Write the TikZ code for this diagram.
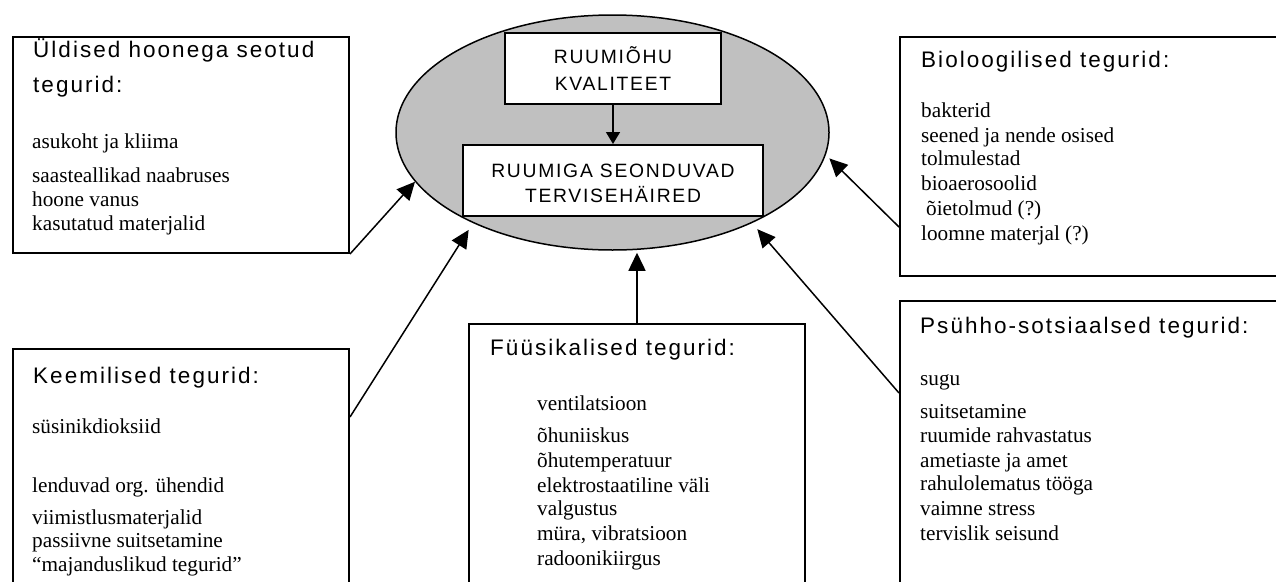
\documentclass[tikz,border=0pt]{standalone}
\usepackage{fontspec}
\setmainfont{Liberation Serif}
\newfontfamily\hfont{Liberation Sans}[LetterSpace=9]
\usetikzlibrary{shapes.geometric,arrows.meta,calc}
\definecolor{ellgray}{RGB}{192,192,192}
\begin{document}
\begin{tikzpicture}[x=1pt,y=-1pt,
  box/.style={draw, line width=2pt, rectangle, inner sep=0pt, anchor=north west},
  cbox/.style={draw, line width=2pt, fill=white, rectangle, inner sep=0pt, anchor=north west},
  head/.style={anchor=base west, inner sep=0pt, font=\hfont\fontsize{22.5}{26}\selectfont},
  body/.style={anchor=base west, inner sep=0pt, font=\fontsize{21.25}{24.5}\selectfont},
  ctext/.style={anchor=base, inner sep=0pt, font=\hfont\fontsize{19.3}{25}\selectfont},
  arr/.style={line width=1.5pt, -{Triangle[length=18pt,width=17pt]}},
  iarr/.style={line width=1.5pt, -{Triangle[length=12pt,width=14pt]}},
]
\path[use as bounding box] (0,0) rectangle (1276,581);

% outer boxes
\node[box, minimum width=336pt, minimum height=216pt] (gen) at (12,36) {};
\node[box, minimum width=336pt, minimum height=260pt] (chem) at (12,348) {};
\node[box, minimum width=336pt, minimum height=280pt] (fys) at (468,323) {};
\node[box, minimum width=400pt, minimum height=239pt] (bio) at (899,36) {};
\node[box, minimum width=400pt, minimum height=300pt] (psy) at (899,300) {};

% central ellipse
\node[draw, ellipse, line width=1.5pt, fill=ellgray, minimum width=433pt,
      minimum height=235pt, inner sep=0pt] (ell) at (612.5,132.5) {};
\node[cbox, minimum width=216pt, minimum height=71pt] (q) at (504,32) {};
\node[cbox, minimum width=300pt, minimum height=71pt] (h) at (462,144) {};
\node[ctext] (q1) at (613,63) {RUUMIÕHU};
\node[ctext] (q2) at (613,90) {KVALITEET};
\node[ctext] (h1) at (613,177) {RUUMIGA SEONDUVAD};
\node[ctext] (h2) at (613,202) {TERVISEHÄIRED};
\draw[iarr] (q.south) -- (h.north);

% texts: general
\node[head] (genh1) at (33,57) {Üldised hoonega seotud};
\node[head] (genh2) at (33,92) {tegurid:};
\foreach \yy/\txt [count=\i] in {148/asukoht ja kliima, 182/saasteallikad naabruses,
  206/hoone vanus, 230/kasutatud materjalid}
  \node[body] (gen\i) at (32,\yy) {\txt};

% biological
\node[head] (bioh) at (921,67) {Bioloogilised tegurid:};
\foreach \yy/\txt [count=\i] in {117/bakterid, 142/seened ja nende osised,
  165/tolmulestad, 190/bioaerosoolid, 215/{\hspace*{5pt}õietolmud (?)}, 240/loomne materjal (?)}
  \node[body] (bio\i) at (921,\yy) {\txt};

% chemical
\node[head] (chemh) at (33,383) {Keemilised tegurid:};
\foreach \yy/\txt [count=\i] in {433/süsinikdioksiid, 492/lenduvad org. ühendid,
  524/viimistlusmaterjalid, 547/passiivne suitsetamine, 571/“majanduslikud tegurid”}
  \node[body] (chem\i) at (32,\yy) {\txt};

% physical
\node[head] (fysh) at (490,355) {Füüsikalised tegurid:};
\foreach \yy/\txt [count=\i] in {410/ventilatsioon, 442/õhuniiskus, 467/õhutemperatuur,
  492/elektrostaatiline väli, 515/valgustus, 540/{müra, vibratsioon}, 565/radoonikiirgus}
  \node[body] (fys\i) at (537,\yy) {\txt};

% psycho-social
\node[head] (psyh) at (920,333) {Psühho-sotsiaalsed tegurid:};
\foreach \yy/\txt [count=\i] in {385/sugu, 418/suitsetamine, 442/ruumide rahvastatus,
  467/ametiaste ja amet, 490/rahulolematus tööga, 515/vaimne stress, 540/tervislik seisund}
  \node[body] (psy\i) at (920,\yy) {\txt};

% arrows
\draw[arr] (gen.south east) -- (ell.194);
\draw[arr, shorten >=8pt] ($(chem.north east)+(0,69)$) -- (ell.213.5);
\draw[arr, shorten >=2pt] (fys.north) -- (fys.north |- ell.south);
\draw[arr, shorten >=8pt] ($(psy.north west)+(0,93)$) -- (ell.-33.5);
\draw[arr, shorten >=5pt] ($(bio.south west)+(0,-50)$) -- (ell.-6.4);
\end{tikzpicture}
\end{document}
